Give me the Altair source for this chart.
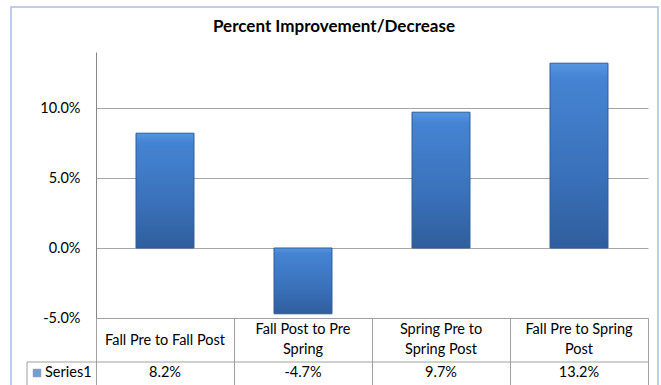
import altair as alt
import pandas as pd

categories = ["Fall Pre to Fall Post", "Fall Post to Pre Spring",
              "Spring Pre to Spring Post", "Fall Pre to Spring Post"]
header_labels = ["Fall Pre to Fall Post", "Fall Post to Pre\nSpring",
                 "Spring Pre to\nSpring Post", "Fall Pre to Spring\nPost"]
values = [0.082, -0.047, 0.097, 0.132]
series_name = "Series1"
chart_title = "Percent Improvement/Decrease"
y_ticks = [-0.05, 0.0, 0.05, 0.10]

df = pd.DataFrame({"category": categories, "header": header_labels, "value": values})
one = pd.DataFrame({"k": [0]})

FONT = "Lato"
FS = 14.5
W, H = 552, 266
GRID = "#A6A6A6"
LINE = "#A0A0A0"

xenc = alt.X("category:N", sort=categories,
             scale=alt.Scale(paddingInner=0, paddingOuter=0),
             axis=alt.Axis(title=None, labels=False, tickBand="extent",
                           tickSize=67, tickColor=LINE, domainColor=LINE, grid=False))
yscale = alt.Scale(domain=[-0.05, 0.14], nice=False, zero=False)

base = alt.Chart(df)
deco = alt.Chart(one)

border = deco.mark_rect(fill=None, stroke="#A9C0E0", strokeWidth=1.5).encode(
    x=alt.value(-85), x2=alt.value(562), y=alt.value(-45), y2=alt.value(345)
)

bars = base.mark_bar(
    width=alt.RelativeBandSize(0.42),
    stroke="#2C5C98", strokeWidth=1,
    color=alt.Gradient(
        gradient="linear", x1=0, x2=0, y1=0, y2=1,
        stops=[alt.GradientStop(color="#5596E2", offset=0),
               alt.GradientStop(color="#4584D3", offset=0.08),
               alt.GradientStop(color="#3A71BA", offset=0.6),
               alt.GradientStop(color="#2F5E9C", offset=1)],
    ),
).encode(
    x=xenc,
    y=alt.Y("value:Q", scale=yscale,
            axis=alt.Axis(title=None, values=y_ticks, ticks=False,
                          labelExpr="replace(format(datum.value, '.1%'), '\u2212', '-')",
                          domainColor="#868686", gridColor=GRID, labelPadding=16,
                          labelFontSize=FS, labelColor="#000000", labelFont=FONT)),
    y2=alt.datum(0),
)

hdr_single = base.transform_filter("indexof(datum.header, '\\n') < 0").mark_text(
    font=FONT, fontSize=FS, color="#000000", baseline="middle", align="center"
).encode(x=alt.X("category:N", sort=categories), y=alt.value(H + 23), text="header:N")

hdr_double = base.transform_filter("indexof(datum.header, '\\n') >= 0").mark_text(
    font=FONT, fontSize=FS, color="#000000", lineBreak="\n", lineHeight=20,
    baseline="middle", align="center"
).encode(x=alt.X("category:N", sort=categories), y=alt.value(H + 12), text="header:N")

vals = base.transform_calculate(
    label="replace(format(datum.value, '.1%'), '\u2212', '-')"
).mark_text(font=FONT, fontSize=FS, color="#000000", baseline="middle",
            align="center").encode(
    x=alt.X("category:N", sort=categories), y=alt.value(H + 55), text="label:N"
)

row_line = deco.mark_rule(color=LINE, strokeWidth=1).encode(
    x=alt.value(-69), x2=alt.value(W), y=alt.value(H + 44)
)
row_left = deco.mark_rule(color=LINE, strokeWidth=1).encode(
    x=alt.value(-69), y=alt.value(H + 44), y2=alt.value(H + 70)
)

key = deco.mark_square(size=60, color="#3C74C0", stroke="#2C5C98", strokeWidth=0.5).encode(
    x=alt.value(-59), y=alt.value(H + 55)
)
key_label = deco.mark_text(font=FONT, fontSize=FS, color="#000000", align="left",
                           baseline="middle", text=series_name).encode(
    x=alt.value(-51), y=alt.value(H + 55)
)

title = deco.mark_text(font=FONT, fontSize=17, fontWeight="bold", color="#000000",
                       align="center", baseline="middle", text=chart_title).encode(
    x=alt.value(238), y=alt.value(-25)
)

chart = alt.layer(border, bars, hdr_single, hdr_double, vals, row_line, row_left,
                  key, key_label, title).properties(
    width=W, height=H,
    autosize=alt.AutoSizeParams(type="none"),
    padding={"left": 96, "top": 52, "right": 13, "bottom": 67},
    background="white",
).configure_view(stroke=None)

chart.save("out.html", embed_options={"renderer": "svg", "actions": False})
